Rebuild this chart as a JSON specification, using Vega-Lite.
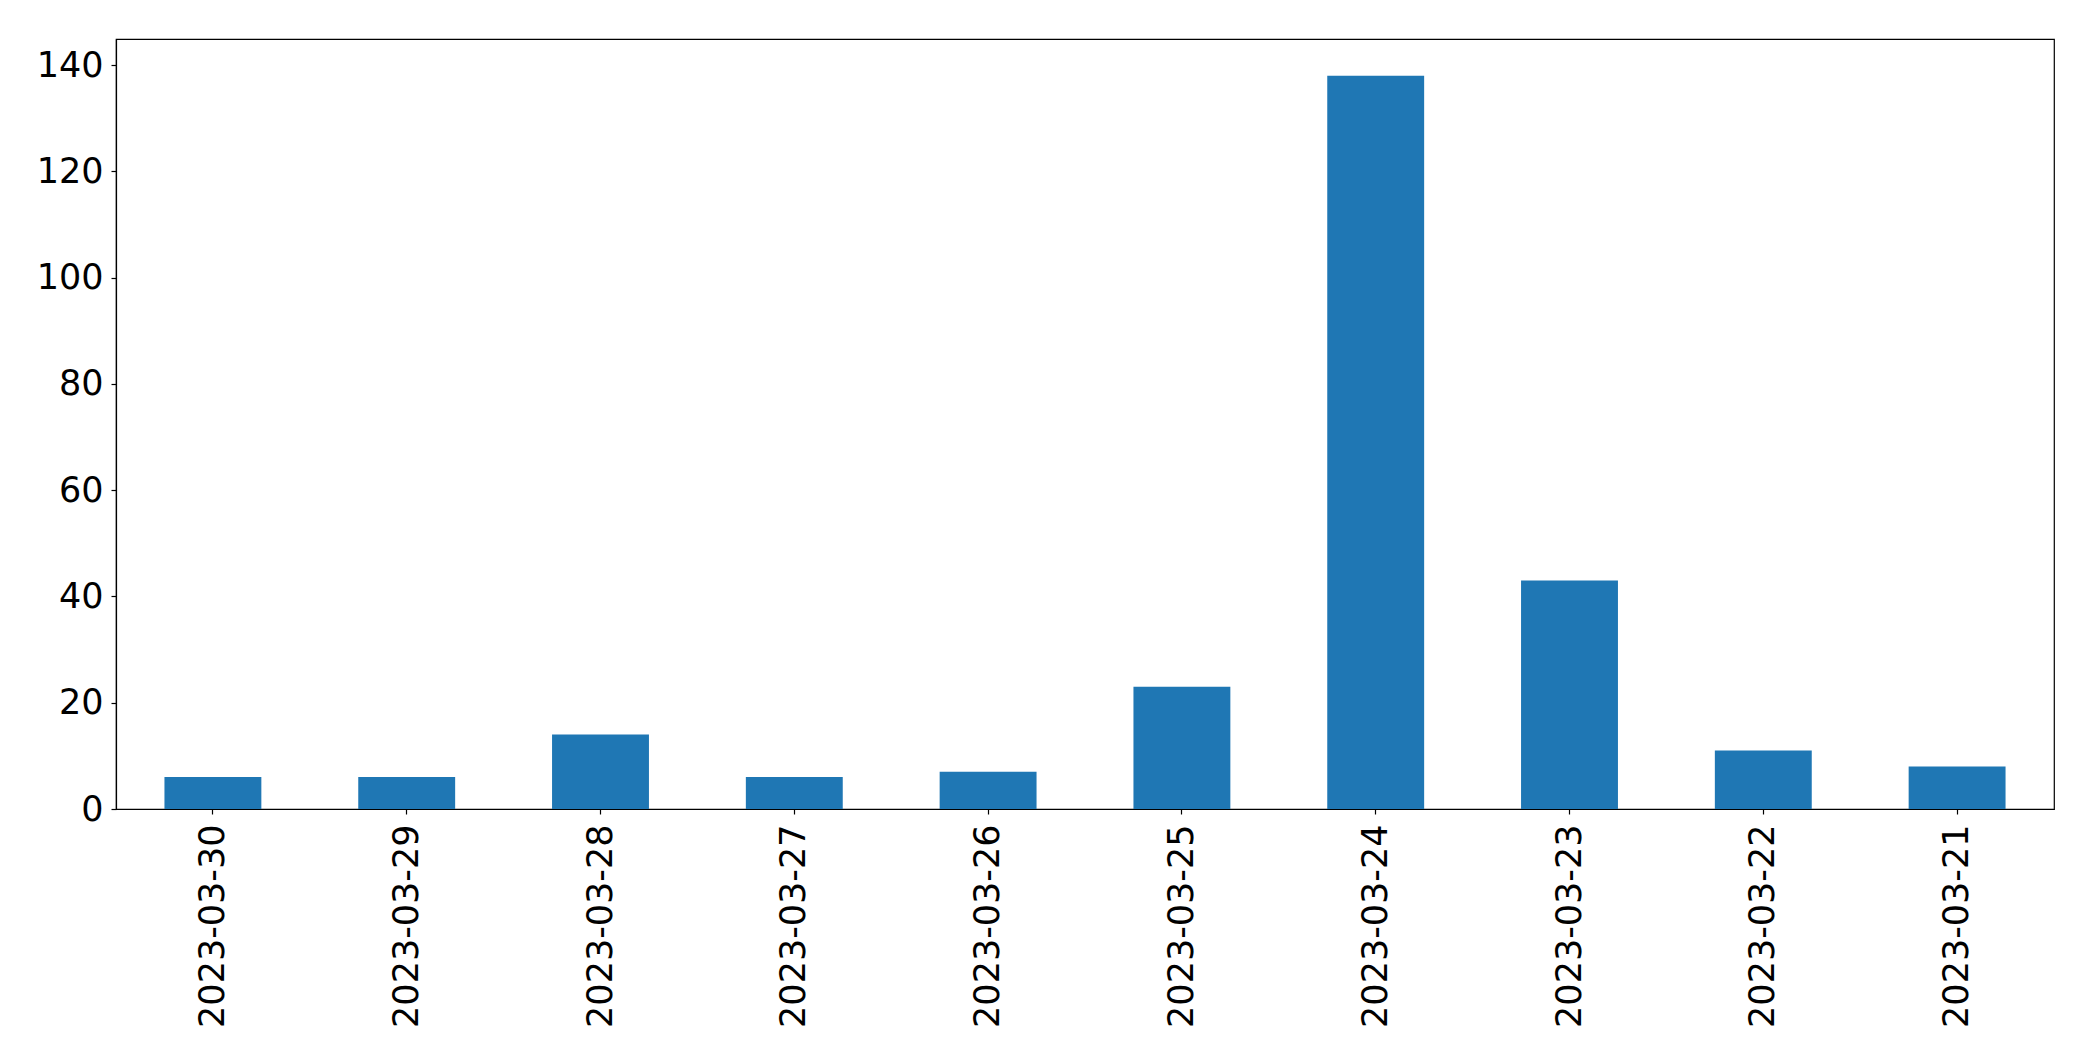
{
  "$schema": "https://vega.github.io/schema/vega-lite/v6.json",
  "width": 1938,
  "height": 770,
  "autosize": {"type": "none"},
  "padding": {"left": 116, "top": 39, "right": 39, "bottom": 252},
  "background": "white",
  "config": {
    "view": {"stroke": "black", "strokeWidth": 1.2},
    "font": "DejaVu Sans"
  },
  "data": {
    "values": [
      {"date": "2023-03-30", "count": 6},
      {"date": "2023-03-29", "count": 6},
      {"date": "2023-03-28", "count": 14},
      {"date": "2023-03-27", "count": 6},
      {"date": "2023-03-26", "count": 7},
      {"date": "2023-03-25", "count": 23},
      {"date": "2023-03-24", "count": 138},
      {"date": "2023-03-23", "count": 43},
      {"date": "2023-03-22", "count": 11},
      {"date": "2023-03-21", "count": 8}
    ]
  },
  "mark": {"type": "bar", "color": "#1f77b4"},
  "encoding": {
    "x": {
      "field": "date",
      "type": "nominal",
      "sort": null,
      "scale": {"paddingInner": 0.5, "paddingOuter": 0.25},
      "axis": {
        "title": null,
        "labelAngle": 270,
        "labelPadding": 10,
        "labelAlign": "right",
        "labelBaseline": "middle",
        "labelLimit": 0,
        "labelFont": "DejaVu Sans",
        "labelFontSize": 35,
        "labelColor": "black",
        "tickColor": "black",
        "domainColor": "black",
        "tickSize": 5,
        "tickWidth": 1.2,
        "domainWidth": 1.2,
        "grid": false
      }
    },
    "y": {
      "field": "count",
      "type": "quantitative",
      "scale": {"domain": [0, 144.9], "nice": false},
      "axis": {
        "title": null,
        "values": [0, 20, 40, 60, 80, 100, 120, 140],
        "labelPadding": 8,
        "labelFont": "DejaVu Sans",
        "labelFontSize": 35,
        "labelColor": "black",
        "tickColor": "black",
        "domainColor": "black",
        "tickSize": 5,
        "tickWidth": 1.2,
        "domainWidth": 1.2,
        "grid": false
      }
    }
  }
}
